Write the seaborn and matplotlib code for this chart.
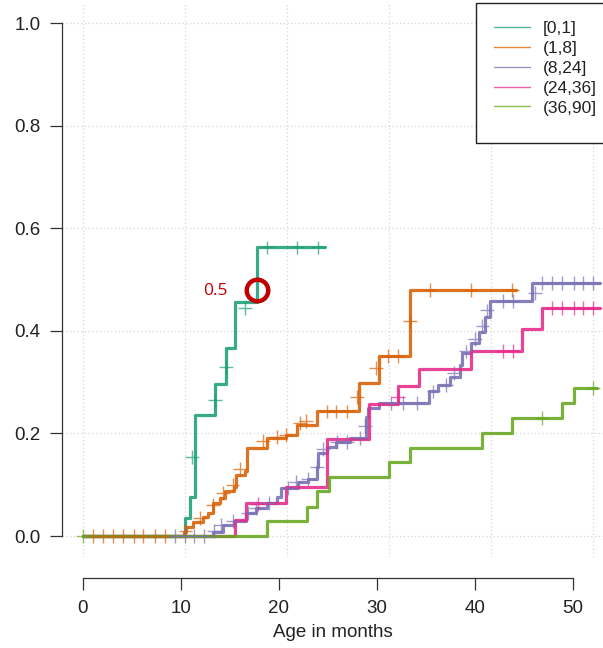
import numpy as np
import pandas as pd
import matplotlib
matplotlib.use("Agg")
import matplotlib.pyplot as plt
import matplotlib.patches as mpatches
from matplotlib.lines import Line2D
import seaborn as sns

# groups (age at onset)
groups = ["[0,1]", "(1,8]", "(8,24]", "(24,36]", "(36,90]"]

# step curves: event times and cumulative value after the step, plus last follow-up time
t_01 = [0, 10.4, 11.0, 11.5, 13.5, 14.6, 15.6, 17.8]
v_01 = [0, 0.035, 0.076, 0.236, 0.297, 0.367, 0.456, 0.563]
end_01 = 24.75

t_18 = [0, 10.3, 10.6, 11.3, 12.3, 12.8, 13.3, 14.0, 14.5, 15.5, 15.7, 16.6, 16.8,
        18.8, 20.8, 21.9, 23.9, 28.2, 30.2, 33.4]
v_18 = [0, 0.008, 0.018, 0.027, 0.038, 0.045, 0.064, 0.075, 0.087, 0.096, 0.119,
        0.126, 0.171, 0.191, 0.197, 0.217, 0.243, 0.298, 0.352, 0.48]
end_18 = 44.2

t_824 = [0, 13.3, 14.3, 15.4, 16.7, 17.7, 18.8, 19.8, 20.2, 22.0, 23.0, 23.9, 24.0,
         24.9, 25.9, 27.3, 28.9, 29.1, 30.2, 35.3, 36.3, 37.5, 38.5, 38.7, 39.6,
         40.4, 41.1, 41.6, 45.9]
v_824 = [0, 0.008, 0.021, 0.03, 0.045, 0.055, 0.064, 0.077, 0.094, 0.106, 0.112,
         0.135, 0.162, 0.174, 0.184, 0.191, 0.233, 0.25, 0.26, 0.282, 0.295, 0.311,
         0.334, 0.357, 0.377, 0.399, 0.428, 0.458, 0.494]
end_824 = 52.8

t_2436 = [0, 15.6, 16.7, 20.8, 24.9, 29.2, 32.2, 34.3, 39.6, 44.8, 46.9]
v_2436 = [0, 0.031, 0.064, 0.095, 0.189, 0.257, 0.292, 0.326, 0.361, 0.404, 0.445]
end_2436 = 52.8

t_3690 = [0, 18.8, 22.9, 23.9, 25.1, 31.3, 33.4, 40.8, 43.8, 48.9, 50.1]
v_3690 = [0, 0.030, 0.057, 0.087, 0.116, 0.144, 0.171, 0.2, 0.23, 0.259, 0.288]
end_3690 = 52.5

# censor marks (x, y)
cx_01 = [11.2, 13.5, 14.6, 16.6, 18.8, 21.9, 24.0]
cy_01 = [0.155, 0.265, 0.33, 0.445, 0.563, 0.563, 0.563]

cx_18 = [1.1, 2.1, 3.1, 4.1, 5.2, 6.2, 7.4, 8.4, 10.5, 12.0, 13.3, 14.3, 15.3, 16.1,
         18.4, 19.8, 20.8, 22.2, 22.8, 24.9, 25.9, 27.0, 28.0, 29.9, 31.2, 32.2,
         33.4, 35.4, 39.6, 43.8]
cy_18 = [0, 0, 0, 0, 0, 0, 0, 0, 0.01, 0.035, 0.06, 0.084, 0.1, 0.13,
         0.185, 0.194, 0.197, 0.22, 0.225, 0.243, 0.243, 0.243, 0.272, 0.328, 0.352, 0.352,
         0.419, 0.48, 0.48, 0.48]

cx_824 = [9.4, 10.4, 11.4, 12.4, 13.4, 14.1, 15.3, 16.9, 17.7, 19.0, 21.0, 21.8, 23.0,
          23.9, 24.5, 26.0, 27.0, 28.3, 28.8, 31.5, 32.7, 34.1, 35.8, 37.1, 37.9,
          39.1, 40.0, 40.8, 41.3, 42.9, 43.9, 46.2, 46.9, 47.9, 48.9, 50.1, 51.1, 52.1]
cy_824 = [0, 0, 0, 0, 0.01, 0.021, 0.03, 0.045, 0.055, 0.064, 0.094, 0.106, 0.112,
          0.135, 0.17, 0.184, 0.184, 0.191, 0.215, 0.26, 0.26, 0.26, 0.282, 0.295, 0.318,
          0.36, 0.385, 0.41, 0.44, 0.458, 0.458, 0.474, 0.494, 0.494, 0.494, 0.494, 0.494, 0.494]

cx_2436 = [17.9, 32.2, 42.9, 43.9, 47.9, 48.9, 50.1, 51.1, 52.1]
cy_2436 = [0.062, 0.272, 0.361, 0.361, 0.445, 0.445, 0.445, 0.445, 0.445]

cx_3690 = [0.0, 46.9, 52.1]
cy_3690 = [0, 0.23, 0.288]

# dotted background grid (vertical lines do not sit on the axis ticks)
grid_x = [0.06, 10.5, 20.9, 31.3, 41.7, 52.1]


def main():
    sns.set_theme(style="white")
    plt.rcParams["font.family"] = ["Liberation Sans", "DejaVu Sans"]

    pal = sns.color_palette("Dark2", 5)
    colors = dict(zip(groups, pal))

    curves = [(t_01, v_01, end_01), (t_18, v_18, end_18), (t_824, v_824, end_824),
              (t_2436, v_2436, end_2436), (t_3690, v_3690, end_3690)]
    rows = []
    for g, (t, v, e) in zip(groups, curves):
        for ti, vi in zip(list(t) + [e], list(v) + [v[-1]]):
            rows.append((g, ti, vi))
    df = pd.DataFrame(rows, columns=["group", "age", "cuminc"])

    cens = [(cx_01, cy_01), (cx_18, cy_18), (cx_824, cy_824),
            (cx_2436, cy_2436), (cx_3690, cy_3690)]
    crow = []
    for g, (cx, cy) in zip(groups, cens):
        for a, b in zip(cx, cy):
            crow.append((g, a, b))
    dfc = pd.DataFrame(crow, columns=["group", "age", "cuminc"])

    fig, ax = plt.subplots(figsize=(6.03, 6.48), dpi=100)
    fig.subplots_adjust(left=62 / 603, right=1.0, bottom=0.1412, top=0.9954)

    sns.lineplot(data=df, x="age", y="cuminc", hue="group", hue_order=groups,
                 palette=colors, estimator=None, sort=False, drawstyle="steps-post",
                 lw=2.3, alpha=0.88, legend=False, ax=ax, zorder=3)
    sns.scatterplot(data=dfc, x="age", y="cuminc", hue="group", hue_order=groups,
                    palette=colors, marker="+", s=100, linewidth=1.0, alpha=0.7,
                    legend=False, ax=ax, zorder=4)

    ax.set_xlim(-2.1, 53.1)
    ax.set_ylim(-0.04, 1.04)
    ax.set_xticks([0, 10, 20, 30, 40, 50])
    ax.set_yticks([0, 0.2, 0.4, 0.6, 0.8, 1.0])
    ax.set_yticklabels(["0.0", "0.2", "0.4", "0.6", "0.8", "1.0"])
    ax.set_xticks(grid_x, minor=True)
    ax.tick_params(axis="x", which="minor", length=0)
    ax.grid(False)
    ax.grid(which="minor", axis="x", color="#d6d6d6", ls=(0, (1, 2)), lw=0.9)
    ax.grid(which="major", axis="y", color="#d6d6d6", ls=(0, (1, 2)), lw=0.9)
    ax.set_axisbelow(True)

    for s in ["top", "right"]:
        ax.spines[s].set_visible(False)
    ax.spines["left"].set_bounds(0, 1)
    ax.spines["bottom"].set_bounds(0, 50)
    ax.spines["bottom"].set_position(("outward", 15.5))
    for s in ["left", "bottom"]:
        ax.spines[s].set_color("#333333")
        ax.spines[s].set_linewidth(0.9)
    ax.tick_params(axis="both", which="major", direction="out", length=8.6, width=0.9,
                   color="#333333", labelcolor="#222222", labelsize=13.5, pad=7,
                   left=True, bottom=True)

    ax.set_xlabel("Age in months", fontsize=13.5, color="#222222", labelpad=5.6)
    ax.set_ylabel("")

    # highlight where the [0,1] curve crosses one half
    ax.plot([17.8], [0.48], marker="o", ms=15.5, mfc="none", mec="#C00000", mew=3.2,
            ls="none", zorder=6)
    ax.text(13.6, 0.479, "0.5", color="#C00000", fontsize=12.5, ha="center",
            va="center", family=["Open Sans", "DejaVu Sans"], zorder=6)

    # legend box (runs past the right edge, as in the source)
    box = mpatches.Rectangle((476 / 603, (648 - 143) / 648), 0.5, 140 / 648,
                             transform=fig.transFigure, facecolor="white",
                             edgecolor="#222222", lw=1.0, clip_on=False, zorder=7)
    fig.add_artist(box)
    handles = [Line2D([0], [0], color=colors[g], lw=1.0, alpha=0.75) for g in groups]
    leg = fig.legend(handles, groups, loc="upper left", frameon=False,
                     bbox_to_anchor=(494 / 603, (648 - 21) / 648),
                     bbox_transform=fig.transFigure, borderpad=0, borderaxespad=0,
                     handlelength=2.06, handletextpad=0.76, labelspacing=0.27,
                     fontsize=12.5)
    leg.set_zorder(8)
    for t in leg.get_texts():
        t.set_color("#222222")

    fig.savefig("out.png", dpi=100)


if __name__ == "__main__":
    main()
